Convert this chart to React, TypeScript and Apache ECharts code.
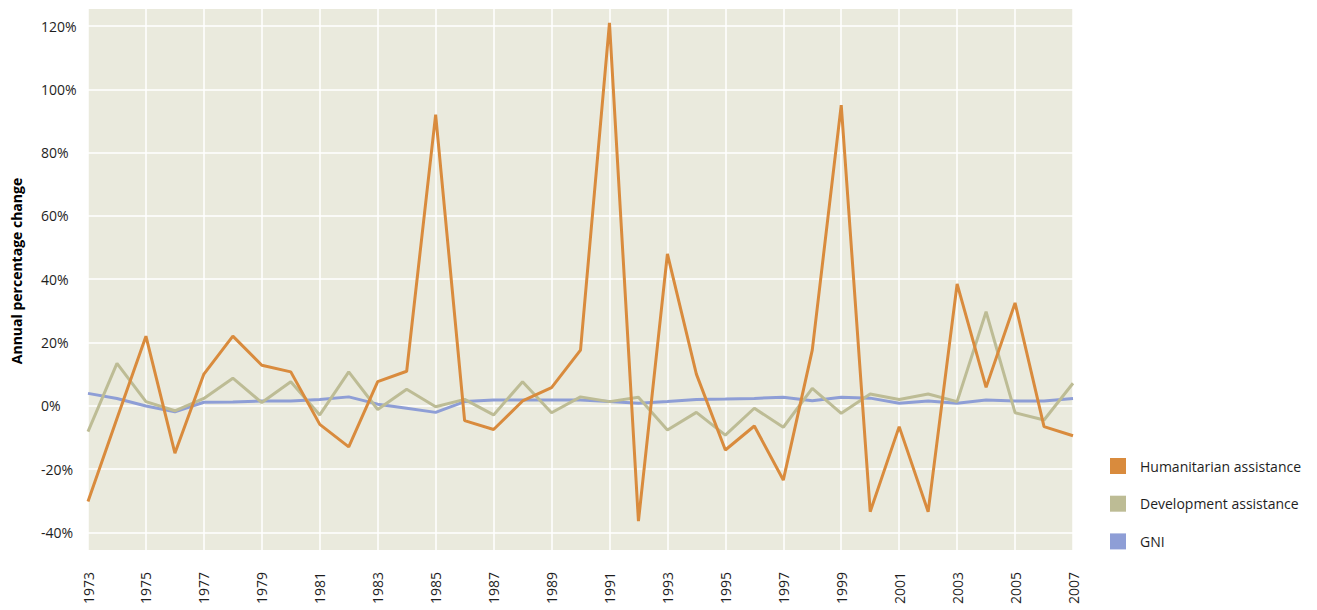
import React, { useEffect, useRef } from "react";
import * as echarts from "echarts";

const years: string[] = [
  "1973", "1974", "1975", "1976", "1977", "1978", "1979", "1980", "1981", "1982",
  "1983", "1984", "1985", "1986", "1987", "1988", "1989", "1990", "1991", "1992",
  "1993", "1994", "1995", "1996", "1997", "1998", "1999", "2000", "2001", "2002",
  "2003", "2004", "2005", "2006", "2007",
];

const humanitarian: number[] = [
  -30.3, -4, 22, -15, 10, 22, 12.8, 10.7, -5.9, -13,
  7.6, 10.9, 92, -4.7, -7.5, 1.5, 5.7, 17.6, 121, -36.5,
  48, 10, -14, -6.4, -23.5, 17.6, 95, -33.5, -6.6, -33.5,
  38.5, 5.8, 32.5, -6.6, -9.5,
];

const development: number[] = [
  -8.2, 13.4, 1.3, -1.6, 2.3, 8.7, 1.0, 7.6, -2.9, 10.7,
  -1.2, 5.2, -0.3, 2.0, -2.9, 7.6, -2.2, 2.8, 1.3, 2.7,
  -7.7, -2.1, -9.3, -0.8, -6.8, 5.5, -2.4, 3.7, 2.0, 3.7,
  1.3, 29.7, -2.2, -4.5, 7.1,
];

const gni: number[] = [
  3.9, 2.3, -0.1, -1.9, 1.1, 1.2, 1.5, 1.5, 2.0, 2.8,
  0.5, -0.8, -2.1, 1.3, 1.8, 1.8, 1.8, 1.8, 1.3, 0.8,
  1.3, 2.0, 2.1, 2.3, 2.7, 1.6, 2.7, 2.4, 0.8, 1.5,
  0.8, 1.8, 1.5, 1.5, 2.3,
];

const seriesNames: string[] = ["Humanitarian assistance", "Development assistance", "GNI"];
const yTitle = "Annual percentage change";

const FONT = "'Open Sans', 'Noto Sans', sans-serif";
const TEXT = "#1e1e1e";

export default function App() {
  const ref = useRef<HTMLDivElement>(null);

  useEffect(() => {
    if (!ref.current) return;
    const chart = echarts.init(ref.current, null, { renderer: "svg" });
    chart.setOption({
      animation: false,
      textStyle: { fontFamily: FONT },
      grid: {
        left: 88,
        right: 244,
        top: 9,
        bottom: 60,
        show: true,
        backgroundColor: "#EAEADD",
        borderWidth: 0,
        containLabel: false,
      },
      legend: {
        orient: "vertical",
        left: 1110,
        top: 458,
        padding: 0,
        itemWidth: 16,
        itemHeight: 16,
        itemGap: 21.7,
        icon: "rect",
        data: seriesNames,
        textStyle: { fontSize: 14, color: TEXT, fontFamily: FONT, padding: [0, 0, 0, 9] },
      },
      graphic: [
        {
          type: "text",
          x: 16,
          y: 271,
          rotation: Math.PI / 2,
          style: {
            text: yTitle,
            font: `bold 14px ${FONT}`,
            fill: "#000",
            textAlign: "center",
            textVerticalAlign: "middle",
          },
        },
      ],
      xAxis: {
        type: "category",
        data: years,
        boundaryGap: false,
        axisLine: { show: false },
        axisTick: { show: false },
        axisLabel: {
          interval: 1,
          rotate: 90,
          margin: 22,
          fontSize: 14,
          color: TEXT,
          fontFamily: FONT,
        },
        splitLine: { show: true, interval: 1, lineStyle: { color: "#ffffff", width: 1.5 } },
      },
      yAxis: {
        type: "value",
        min: -45.6,
        max: 125.4,
        minInterval: 20,
        maxInterval: 20,
        splitNumber: 8,
        axisLine: { show: false },
        axisTick: { show: false },
        axisLabel: {
          showMinLabel: false,
          showMaxLabel: false,
          align: "left",
          margin: 47,
          fontSize: 14,
          color: TEXT,
          fontFamily: FONT,
          formatter: (v: number) => (Math.abs(v % 20) < 1e-6 ? `${v}%` : ""),
        },
        splitLine: {
          show: true,
          showMinLine: false,
          showMaxLine: false,
          lineStyle: { color: "#ffffff", width: 1.5 },
        },
      },
      series: [
        {
          name: seriesNames[2],
          type: "line",
          data: gni,
          symbol: "none",
          color: "#8E9ED6",
          lineStyle: { width: 3, color: "#8E9ED6" },
          z: 2,
        },
        {
          name: seriesNames[1],
          type: "line",
          data: development,
          symbol: "none",
          color: "#BDBC95",
          lineStyle: { width: 3, color: "#BDBC95" },
          z: 3,
        },
        {
          name: seriesNames[0],
          type: "line",
          data: humanitarian,
          symbol: "none",
          color: "#D98B3D",
          lineStyle: { width: 3, color: "#D98B3D" },
          z: 4,
        },
      ],
    });
    return () => chart.dispose();
  }, []);

  return <div ref={ref} style={{ width: 1317, height: 610, position: "absolute", left: 0, top: 0 }} />;
}
